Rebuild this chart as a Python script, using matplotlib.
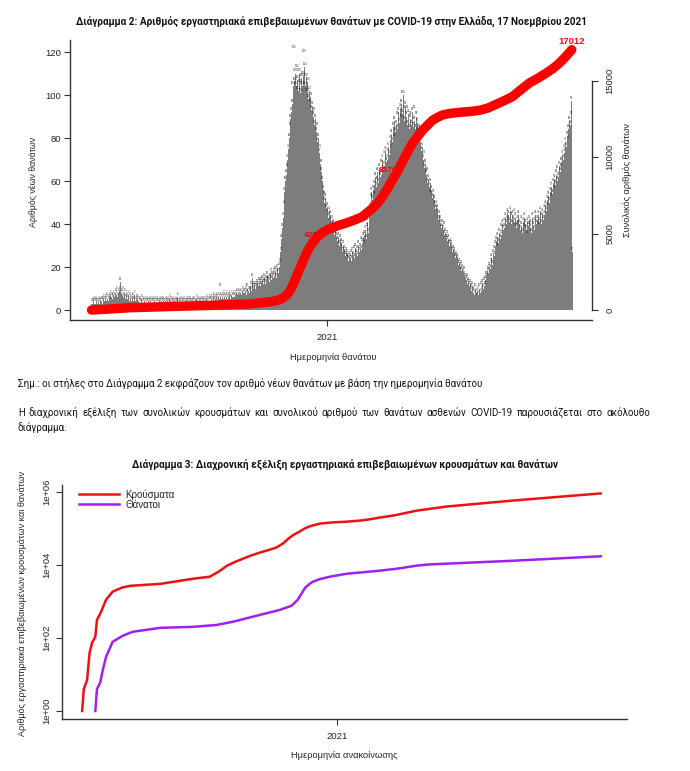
import numpy as np
import pandas as pd
import matplotlib
matplotlib.use("Agg")
import matplotlib.pyplot as plt
from matplotlib.ticker import NullLocator

plt.rcParams['font.family'] = ['Liberation Sans Narrow', 'Liberation Sans', 'DejaVu Sans']
DOC_FONT = ['Roboto', 'DejaVu Sans']

# ---------------- Diagram 2: daily deaths by date of death ----------------
deaths_start = '2020-03-01'
daily_deaths = [
    # Mar 2020
    3, 3, 3, 4, 3, 3, 4, 3, 3, 4, 3, 3, 4, 4, 3, 4, 5, 4, 5, 4, 6, 5, 4, 6, 5, 7, 6, 5, 6, 7, 6,
    # Apr
    8, 7, 9, 6, 8, 9, 7, 13, 8, 7, 9, 6, 8, 5, 7, 6, 5, 7, 4, 6, 5, 4, 6, 5, 4, 7, 4, 5, 4, 5,
    # May
    4, 3, 4, 3, 5, 3, 4, 3, 4, 3, 3, 4, 3, 4, 3, 3, 4, 3, 3, 4, 3, 4, 3, 3, 4, 3, 3, 4, 3, 3, 4,
    # Jun
    3, 4, 3, 3, 4, 3, 3, 4, 3, 5, 3, 4, 3, 3, 4, 3, 3, 4, 3, 3, 6, 3, 4, 3, 3, 4, 3, 3, 4, 3,
    # Jul
    3, 4, 3, 3, 4, 3, 4, 3, 3, 4, 3, 4, 3, 3, 5, 3, 4, 3, 4, 3, 3, 4, 3, 4, 3, 4, 3, 5, 4, 3, 4,
    # Aug
    4, 5, 4, 5, 4, 6, 5, 4, 5, 6, 5, 4, 6, 5, 10, 6, 5, 6, 5, 7, 6, 5, 6, 7, 5, 6, 7, 6, 5, 7, 6,
    # Sep
    6, 7, 6, 7, 8, 6, 7, 8, 7, 6, 8, 7, 9, 8, 7, 8, 9, 7, 8, 10, 9, 8, 9, 11, 9, 15, 10, 9, 11, 10,
    # Oct
    11, 10, 12, 11, 13, 12, 11, 13, 14, 12, 13, 15, 12, 14, 13, 16, 14, 13, 15, 17, 14, 16, 15, 17,
    16, 18, 15, 17, 19, 17, 20,
    # Nov
    22, 27, 33, 38, 43, 49, 55, 60, 63, 66, 70, 75, 80, 85, 89, 92, 96, 104, 121, 106, 110, 104,
    112, 107, 102, 110, 105, 101, 108, 104,
    # Dec
    109, 119, 113, 104, 108, 101, 106, 98, 102, 96, 99, 93, 95, 90, 92, 86, 89, 83, 85, 78, 80,
    73, 75, 68, 64, 60, 56, 53, 50, 52, 47,
    # Jan 2021
    45, 48, 43, 46, 41, 44, 39, 42, 37, 40, 35, 38, 34, 36, 32, 34, 30, 33, 29, 31, 27, 30, 26,
    28, 25, 27, 24, 26, 23, 25, 24,
    # Feb
    26, 23, 27, 25, 28, 24, 29, 26, 28, 25, 30, 27, 29, 32, 28, 31, 34, 30, 35, 37, 33, 38, 41,
    36, 44, 48, 52, 55,
    # Mar
    51, 56, 53, 58, 62, 57, 60, 64, 59, 66, 62, 68, 63, 70, 65, 72, 67, 74, 69, 73, 70, 76, 72,
    79, 75, 82, 78, 85, 80, 88, 83,
    # Apr
    86, 90, 84, 92, 87, 94, 89, 96, 91, 100, 93, 88, 95, 90, 93, 86, 91, 84, 89, 90, 86, 92, 85,
    93, 88, 84, 90, 83, 87, 81,
    # May
    84, 78, 80, 74, 76, 70, 72, 66, 68, 63, 64, 59, 61, 57, 59, 54, 56, 52, 54, 49, 51, 47, 49,
    45, 47, 42, 44, 40, 42, 38, 40,
    # Jun
    37, 39, 35, 36, 33, 35, 32, 33, 30, 31, 29, 30, 27, 28, 26, 27, 24, 25, 23, 24, 21, 22, 20,
    21, 18, 19, 17, 18, 16, 15,
    # Jul
    14, 15, 12, 13, 11, 12, 10, 9, 11, 8, 9, 7, 10, 8, 6, 9, 7, 10, 8, 11, 9, 12, 10, 13, 11, 14,
    16, 15, 18, 17, 20,
    # Aug
    19, 22, 24, 21, 26, 28, 25, 30, 32, 29, 34, 31, 36, 33, 38, 35, 40, 37, 41, 38, 43, 40, 45,
    42, 44, 41, 46, 43, 40, 44, 42,
    # Sep
    45, 41, 43, 38, 42, 39, 44, 40, 37, 42, 39, 36, 41, 38, 43, 40, 37, 41, 35, 39, 42, 38, 40,
    36, 43, 39, 41, 37, 44, 40,
    # Oct
    42, 39, 44, 41, 46, 43, 40, 45, 42, 47, 44, 49, 46, 51, 48, 53, 50, 55, 52, 57, 54, 59, 56,
    61, 58, 63, 60, 65, 62, 67, 64,
    # Nov (1-16)
    66, 69, 72, 70, 75, 73, 78, 76, 81, 79, 84, 88, 86, 90, 97, 27,
]

# cumulative deaths (red line, right axis)
cum_dates = ['2020-03-01', '2020-03-12', '2020-04-20', '2020-06-11', '2020-08-02', '2020-09-23',
             '2020-10-19', '2020-10-26', '2020-11-01', '2020-11-05', '2020-11-09', '2020-11-12',
             '2020-11-15', '2020-11-18', '2020-11-21', '2020-11-24', '2020-11-27', '2020-11-30',
             '2020-12-03', '2020-12-06', '2020-12-10', '2020-12-14', '2020-12-19', '2020-12-24',
             '2020-12-29', '2021-01-05', '2021-01-15', '2021-01-25', '2021-02-04', '2021-02-16',
             '2021-03-01', '2021-03-08', '2021-03-14', '2021-03-20', '2021-03-27', '2021-04-03',
             '2021-04-09', '2021-04-16', '2021-04-22', '2021-04-29', '2021-05-05', '2021-05-12',
             '2021-05-18', '2021-05-25', '2021-05-31', '2021-06-10', '2021-06-22', '2021-07-05',
             '2021-07-18', '2021-07-29', '2021-08-09', '2021-08-20', '2021-08-30', '2021-09-10',
             '2021-09-21', '2021-10-02', '2021-10-13', '2021-10-22', '2021-10-30', '2021-11-07',
             '2021-11-15']
cum_deaths = [0, 30, 150, 230, 300, 400,
              540, 600, 690, 790, 960, 1130,
              1380, 1680, 2020, 2400, 2750, 3100,
              3450, 3780, 4150, 4450, 4750, 4980,
              5150, 5330, 5520, 5670, 5850, 6100,
              6650, 7000, 7400, 7900, 8500, 9100,
              9700, 10350, 10900, 11350, 11750, 12100,
              12400, 12600, 12750, 12850, 12920, 12970,
              13050, 13200, 13450, 13700, 13950, 14400,
              14840, 15150, 15490, 15800, 16140, 16550,
              17012]
cum_labels = [('2020-12-26', 4840, '4280'), ('2021-04-03', 9120, '8570'), ('2021-11-15', 17250, '17012')]

# ---------------- Diagram 3: cumulative cases and deaths ----------------
case_dates = ['2020-02-26', '2020-02-28', '2020-03-03', '2020-03-06', '2020-03-09', '2020-03-13',
              '2020-03-15', '2020-03-20', '2020-03-26', '2020-04-03', '2020-04-14', '2020-04-24',
              '2020-05-31', '2020-07-10', '2020-07-30', '2020-08-10', '2020-08-20', '2020-08-30',
              '2020-09-08', '2020-09-18', '2020-09-29', '2020-10-09', '2020-10-19', '2020-10-27',
              '2020-11-04', '2020-11-10', '2020-11-16', '2020-11-23', '2020-11-30', '2020-12-11',
              '2020-12-25', '2021-01-12', '2021-01-30', '2021-02-10', '2021-02-21', '2021-03-12',
              '2021-03-25', '2021-04-07', '2021-05-14', '2021-08-01', '2021-11-17']
case_totals = [1, 4, 7, 39, 73, 107,
               310, 515, 1100, 1830, 2350, 2640,
               3000, 4150, 4700, 6500, 9400, 12000,
               14500, 17800, 21500, 25000, 29500, 38000,
               55000, 68000, 80000, 100000, 115000, 133000,
               143000, 150000, 162000, 175000, 194000, 225000,
               260000, 300000, 390000, 565000, 890000]

death_dates = ['2020-03-13', '2020-03-15', '2020-03-19', '2020-03-22', '2020-03-26', '2020-04-03',
               '2020-04-15', '2020-04-27', '2020-05-31', '2020-07-10', '2020-08-07', '2020-08-27',
               '2020-09-29', '2020-10-23', '2020-11-06', '2020-11-10', '2020-11-14', '2020-11-18',
               '2020-11-23', '2020-11-28', '2020-12-02', '2020-12-10', '2020-12-23', '2021-01-12',
               '2021-02-21', '2021-03-15', '2021-04-07', '2021-04-20', '2021-05-14', '2021-08-01',
               '2021-11-17']
death_totals = [1, 4, 6, 13, 30, 78,
                113, 146, 188, 200, 225, 275,
                425, 580, 750, 900, 1100, 1550,
                2350, 2950, 3400, 4000, 4700, 5650,
                6850, 7800, 9400, 10100, 10700, 12800,
                17012]

W, H = 690, 771
TXT = '#222222'
TICK_FS = 6.8


def rect(l, t, r, b):
    return [l / W, 1 - b / H, (r - l) / W, (b - t) / H]


def ftext(x, y, s, **kw):
    return fig.text(x / W, 1 - y / H, s, color=kw.pop('color', TXT), **kw)


def style_axis(ax):
    ax.spines['top'].set_visible(False)
    ax.spines['right'].set_visible(False)
    for s in ('left', 'bottom'):
        ax.spines[s].set_linewidth(1.0)
        ax.spines[s].set_color('#333333')
    ax.tick_params(direction='out', length=4.5, width=0.8, color='#333333',
                   labelsize=TICK_FS, labelcolor=TXT)


fig = plt.figure(figsize=(6.9, 7.71), dpi=100)
jan1 = pd.Timestamp('2021-01-01')
fitted = []  # (text, target length in px, vertical?)

# ---- diagram 2
ax1 = fig.add_axes(rect(70, 40, 592, 320))
days = pd.date_range(deaths_start, periods=len(daily_deaths), freq='D')
ax1.bar(days, daily_deaths, width=1.0, color='#7d7d7d', linewidth=0)
for d, v in zip(days, daily_deaths):
    ax1.text(d, v + 0.5, str(v), fontsize=2.0, color='#262626', ha='center', va='bottom')
ax1.set_xlim(jan1 - pd.Timedelta(days=334), jan1 + pd.Timedelta(days=344.3))
ax1.set_ylim(-4.65, 125.6)
ax1.set_yticks(range(0, 121, 20))
ax1.set_xticks([jan1])
ax1.set_xticklabels(['2021'])
style_axis(ax1)
ax1.tick_params(axis='y', pad=2)
ax1.tick_params(axis='x', pad=5)

ax2 = ax1.twinx()
ax2.set_ylim(-653, 17647)
for sp in ('top', 'left', 'bottom'):
    ax2.spines[sp].set_visible(False)
ax2.spines['right'].set_bounds(0, 15000)
ax2.spines['right'].set_linewidth(1.0)
ax2.spines['right'].set_color('#333333')
ax2.set_yticks([0, 5000, 10000, 15000])
ax2.tick_params(direction='out', length=4.5, width=0.8, color='#333333',
                labelsize=TICK_FS, labelcolor=TXT, pad=5)
for t in ax2.get_yticklabels():
    t.set_rotation(90)
    t.set_va('center')
for d, v, s in cum_labels[:2]:
    ax2.text(pd.Timestamp(d), v, s, color='red', fontsize=6, fontweight='bold',
             ha='right', va='center', zorder=1)
ax2.plot(pd.to_datetime(cum_dates), cum_deaths, color='red', lw=6.8,
         solid_capstyle='round', solid_joinstyle='round', zorder=2)
d, v, s = cum_labels[2]
ax2.text(pd.Timestamp(d), v, s, color='#e8101a', fontsize=6.8, fontweight='bold',
         ha='center', va='bottom', zorder=3)

t = ftext(332, 21, 'Διάγραμμα 2: Αριθμός εργαστηριακά επιβεβαιωμένων θανάτων με COVID-19 στην Ελλάδα, 17 Νοεμβρίου 2021',
          ha='center', va='center', fontsize=8, fontweight='bold', color='#111111', family=DOC_FONT)
fitted.append((t, 512, False))
t = ftext(34, 182, 'Αριθμός νέων θανάτων', rotation=90, ha='center', va='center', fontsize=7)
fitted.append((t, 90, True))
t = ftext(627, 180, 'Συνολικός αριθμός θανάτων', rotation=90, ha='center', va='center', fontsize=7)
fitted.append((t, 113, True))
t = ftext(333, 357, 'Ημερομηνία θανάτου', ha='center', va='center', fontsize=7)
fitted.append((t, 86, False))

# ---- body text
t = ftext(18, 383, 'Σημ.: οι στήλες στο Διάγραμμα 2 εκφράζουν τον αριθμό νέων θανάτων με βάση την ημερομηνία θανάτου',
          ha='left', va='center', fontsize=8, color='#111111', family=DOC_FONT)
fitted.append((t, 463, False))
body = t
line1 = ('Η διαχρονική εξέλιξη των συνολικών κρουσμάτων και συνολικού αριθμού των θανάτων '
         'ασθενών COVID-19 παρουσιάζεται στο ακόλουθο')
words = [ftext(0, 413, w, ha='left', va='center', fontsize=8, color='#111111', family=DOC_FONT)
         for w in line1.split()]
last = ftext(18, 428, 'διάγραμμα.', ha='left', va='center', fontsize=8, color='#111111', family=DOC_FONT)

# ---- diagram 3
ax3 = fig.add_axes(rect(62, 485, 627, 719))
ax3.set_yscale('log')
ax3.plot(pd.to_datetime(case_dates), case_totals, color='#ee1111', lw=1.8, label='Κρούσματα')
ax3.plot(pd.to_datetime(death_dates), death_totals, color='#a020f0', lw=1.8, label='Θάνατοι')
ax3.set_xlim(jan1 - pd.Timedelta(days=334.5), jan1 + pd.Timedelta(days=352))
ax3.set_ylim(10 ** -0.219, 10 ** 6.18)
ax3.set_yticks([1, 1e2, 1e4, 1e6])
ax3.set_yticklabels(['1e+00', '1e+02', '1e+04', '1e+06'])
ax3.yaxis.set_minor_locator(NullLocator())
ax3.set_xticks([jan1])
ax3.set_xticklabels(['2021'])
style_axis(ax3)
ax3.tick_params(axis='y', pad=3)
ax3.tick_params(axis='x', pad=5)
for t in ax3.get_yticklabels():
    t.set_rotation(90)
    t.set_va('center')
ax3.legend(loc='upper left', bbox_to_anchor=(79 / W, 1 - 489 / H), bbox_transform=fig.transFigure,
           frameon=False, fontsize=7, handlelength=4.1, handletextpad=0.65, labelspacing=0.02,
           borderpad=0, borderaxespad=0, labelcolor=TXT)

t = ftext(345, 464, 'Διάγραμμα 3: Διαχρονική εξέλιξη εργαστηριακά επιβεβαιωμένων κρουσμάτων και θανάτων',
          ha='center', va='center', fontsize=8, fontweight='bold', color='#111111', family=DOC_FONT)
fitted.append((t, 426, False))
t = ftext(23, 604, 'Αριθμός εργαστηριακά επιβεβαιωμένων κρουσμάτων και θανάτων', rotation=90,
          ha='center', va='center', fontsize=7)
fitted.append((t, 262, True))
t = ftext(344, 756, 'Ημερομηνία ανακοίνωσης', ha='center', va='center', fontsize=7)
fitted.append((t, 106, False))

# scale the free texts to the widths seen on the page
fig.canvas.draw()
rend = fig.canvas.get_renderer()
for t, target, vert in fitted:
    bb = t.get_window_extent(rend)
    cur = bb.height if vert else bb.width
    t.set_fontsize(t.get_fontsize() * target / cur)
for w in words + [last]:
    w.set_fontsize(body.get_fontsize())

# justify first paragraph line between x=18 and x=650
widths = [w.get_window_extent(rend).width for w in words]
gap = (650 - 18 - sum(widths)) / (len(words) - 1)
x = 18
for w, wd in zip(words, widths):
    w.set_x(x / W)
    x += wd + gap

fig.savefig('out.png', dpi=100)
